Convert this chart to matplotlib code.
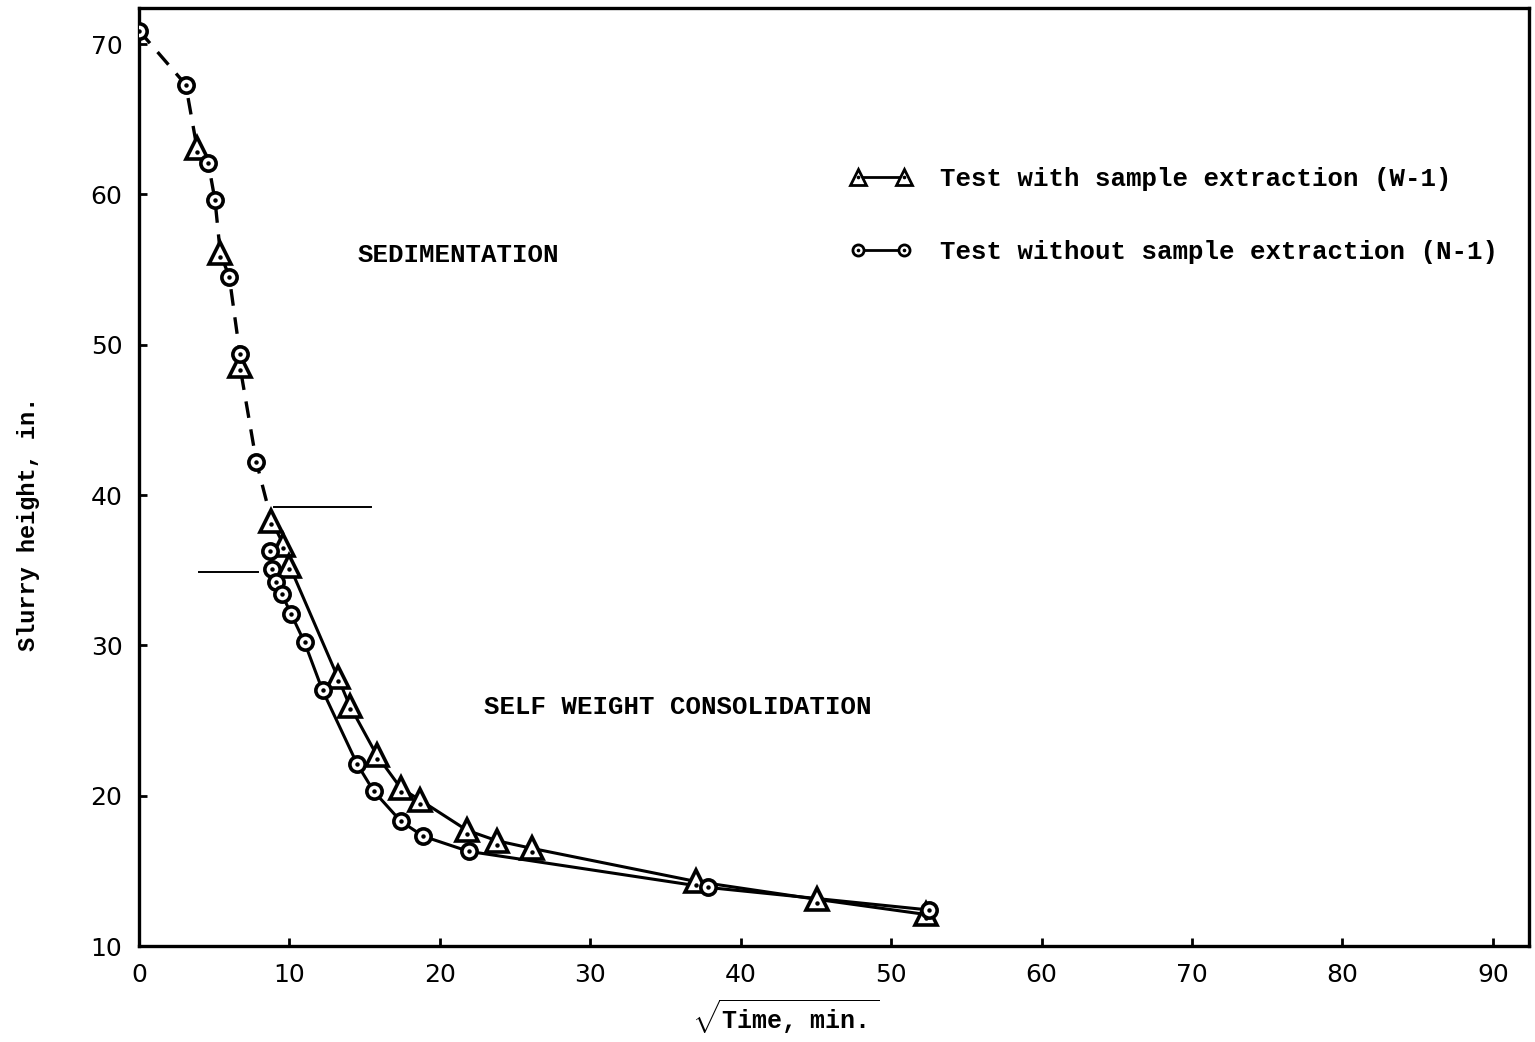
import numpy as np
import matplotlib
matplotlib.use("Agg")
import matplotlib.pyplot as plt
from matplotlib.lines import Line2D
from matplotlib.legend_handler import HandlerTuple

# sqrt(time) [min] vs slurry height [in.]
w1_x = [3.85, 5.4, 6.7, 8.8, 9.6, 10.0, 13.2, 14.0, 15.8, 17.4, 18.7, 21.8, 23.8, 26.1, 37.0, 45.1, 52.3]
w1_y = [63.1, 56.1, 48.6, 38.3, 36.7, 35.3, 27.9, 26.0, 22.7, 20.5, 19.7, 17.7, 17.0, 16.5, 14.3, 13.1, 12.1]
n1_x = [0.0, 3.1, 4.6, 5.05, 6.0, 6.7, 7.8, 8.7, 8.85, 9.1, 9.5, 10.1, 11.0, 12.2, 14.5, 15.6, 17.4, 18.9, 21.9, 37.8, 52.5]
n1_y = [70.9, 67.3, 62.1, 59.6, 54.5, 49.4, 42.2, 36.3, 35.1, 34.2, 33.4, 32.1, 30.2, 27.0, 22.1, 20.3, 18.3, 17.3, 16.3, 13.9, 12.4]
w1_sed = 4   # first points of each test lie on the dashed sedimentation curve
n1_sed = 7

# end of sedimentation marks: (height, x from, x to)
marks = [(39.2, 9.0, 15.4), (34.9, 4.0, 7.9)]

plt.rcParams['mathtext.fontset'] = 'custom'
plt.rcParams['mathtext.tt'] = 'Liberation Mono:bold'
mono = {'family': 'Liberation Mono', 'weight': 'bold'}

fig = plt.figure(figsize=(15.35, 10.42), dpi=100)
ax = fig.add_axes([0.0906, 0.0921, 0.9055, 0.9002])

# dashed sedimentation curve through both tests
sx = n1_x[:n1_sed] + w1_x[:w1_sed]
sy = n1_y[:n1_sed] + w1_y[:w1_sed]
order = np.argsort(sx)
ax.plot(np.array(sx)[order], np.array(sy)[order], color='black', lw=2.4, ls=(0, (5, 3.5)), zorder=2)

# solid consolidation curves
ax.plot(w1_x[w1_sed - 1:], w1_y[w1_sed - 1:], color='black', lw=2.2, zorder=2)
ax.plot(n1_x[n1_sed:], n1_y[n1_sed:], color='black', lw=2.2, zorder=2)

ax.plot(w1_x, w1_y, ls='none', marker='^', ms=16, mfc='white', mec='black', mew=2.6, zorder=3)
ax.plot(n1_x, n1_y, ls='none', marker='o', ms=11, mfc='white', mec='black', mew=2.6, zorder=3)
ax.plot(w1_x, np.array(w1_y) - 0.25, ls='none', marker='o', ms=2.2, color='black', zorder=4)
ax.plot(n1_x, n1_y, ls='none', marker='o', ms=2.2, color='black', zorder=4)

for yv, x0, x1 in marks:
    ax.plot([x0, x1], [yv, yv], color='black', lw=1.4)

ax.text(21.2, 56.0, 'SEDIMENTATION', ha='center', va='center', fontsize=18.5, **mono)
ax.text(35.8, 25.9, 'SELF WEIGHT CONSOLIDATION', ha='center', va='center', fontsize=18.5, **mono)

# legend
tri = Line2D([], [], color='black', lw=2, marker='^', ms=12, mfc='white', mec='black', mew=2)
cir = Line2D([], [], color='black', lw=2, marker='o', ms=8, mfc='white', mec='black', mew=2)
dot = Line2D([], [], color='none', marker='o', ms=1.6, mfc='black', mec='black')
leg = ax.legend([(tri, dot), (cir, dot)],
                ['Test with sample extraction (W-1)', 'Test without sample extraction (N-1)'],
                handler_map={tuple: HandlerTuple(ndivide=1)},
                numpoints=2, handlelength=2.4, handletextpad=1.1, labelspacing=1.9,
                frameon=False, loc='upper left', bbox_to_anchor=(0.495, 0.855),
                prop={'family': 'Liberation Mono', 'weight': 'bold', 'size': 18.5})

ax.set_xlim(0, 92.4)
ax.set_ylim(10, 72.4)
ax.set_xticks(range(0, 100, 10))
ax.set_yticks(range(10, 80, 10))
ax.tick_params(direction='in', length=6, width=2, labelsize=18, pad=12)
for s in ax.spines.values():
    s.set_linewidth(2.4)

ax.set_xlabel(r'$\sqrt{\mathtt{Time,\ min.}}$', fontsize=18)
ax.xaxis.set_label_coords(0.465, -0.055)
ax.set_ylabel('Slurry height, in.', fontsize=17, **mono)
ax.yaxis.set_label_coords(-0.071, 0.45)

fig.savefig('out.png', dpi=100)
